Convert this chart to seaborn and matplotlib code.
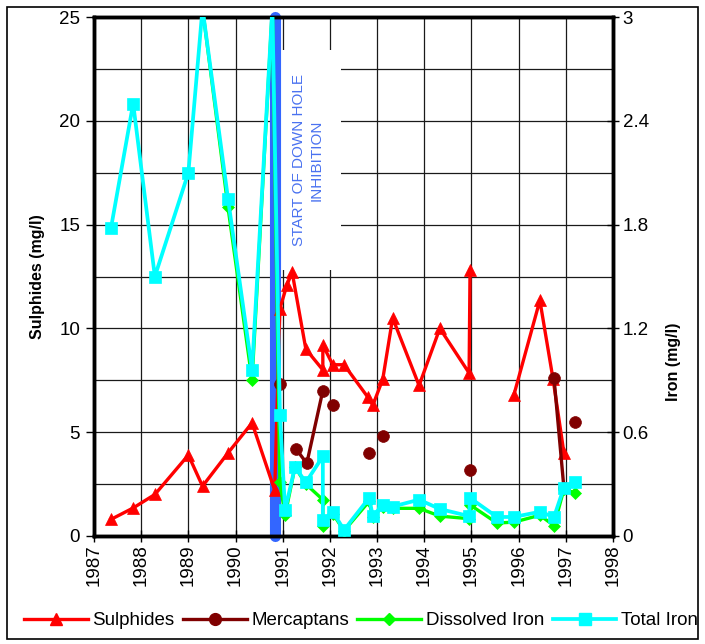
import numpy as np
import pandas as pd
import matplotlib
matplotlib.use("Agg")
import matplotlib.pyplot as plt
from matplotlib.lines import Line2D
from matplotlib.patches import Rectangle
import seaborn as sns

plt.rcParams['font.family'] = ['Liberation Sans', 'DejaVu Sans']

# ---------------- data (decimal years; None = gap in the series) ----------------
sul_x = [1987.36, 1987.83, 1988.29, 1989.0, 1989.3, 1989.84, 1990.35, 1990.83, 1990.94, 1991.09,
         1991.2, 1991.49, 1991.85, 1991.85, 1992.06, 1992.3, 1992.8, 1992.91, 1993.12, 1993.33,
         1993.89, 1994.33, 1994.95, 1994.97, None, 1995.9, 1996.45, 1996.73, 1996.96]
sul_y = [0.8, 1.35, 2.0, 3.9, 2.4, 4.0, 5.45, 2.2, 10.95, 12.1,
         12.7, 9.0, 8.0, 9.2, 8.25, 8.25, 6.7, 6.3, 7.55, 10.5,
         7.25, 10.0, 7.85, 12.8, None, 6.8, 11.35, 7.55, 4.0]

mer_x = [1990.94, None, 1991.28, 1991.51, 1991.85, None, 1992.06, None, 1992.83, None,
         1993.12, None, 1994.97, None, 1996.75, 1996.96, None, 1997.19]
mer_y = [7.3, None, 4.2, 3.5, 7.0, None, 6.3, None, 4.0, None,
         4.8, None, 3.2, None, 7.6, 2.3, None, 5.5]

di_x = [1989.3, 1989.84, 1990.35, 1990.78, 1990.94, 1991.05, 1991.26, 1991.49, 1991.85, 1991.85,
        1992.06, 1992.3, 1992.83, 1992.91, 1993.12, 1993.33, 1993.89, 1994.33, 1994.95, 1994.97,
        1995.54, 1995.9, 1996.45, 1996.75, 1996.96, 1997.19]
di_y = [3.05, 1.90, 0.90, 3.05, 0.31, 0.12, 0.40, 0.30, 0.21, 0.06,
        0.13, 0.03, 0.20, 0.11, 0.17, 0.16, 0.16, 0.115, 0.10, 0.18,
        0.075, 0.08, 0.12, 0.06, 0.27, 0.25]

ti_x = [1987.36, 1987.83, 1988.29, 1989.0, 1989.3, 1989.84, 1990.35, 1990.78, 1990.94, 1991.05,
        1991.26, 1991.49, 1991.85, 1991.85, 1992.06, 1992.3, 1992.83, 1992.91, 1993.12, 1993.33,
        1993.89, 1994.33, 1994.95, 1994.97, 1995.54, 1995.9, 1996.45, 1996.75, 1996.96, 1997.19]
ti_y = [1.78, 2.50, 1.50, 2.10, 3.05, 1.95, 0.96, 3.05, 0.70, 0.15,
        0.40, 0.31, 0.46, 0.09, 0.14, 0.035, 0.22, 0.115, 0.18, 0.17,
        0.21, 0.156, 0.115, 0.22, 0.11, 0.11, 0.14, 0.11, 0.28, 0.31]

inhibition_start = 1990.83
years = list(range(1987, 1999))
left_ticks = [0, 5, 10, 15, 20, 25]
right_ticks = [0, 0.6, 1.2, 1.8, 2.4, 3]
right_tick_labels = ['0', '0.6', '1.2', '1.8', '2.4', '3']


def segments(xs, ys):
    rows, seg = [], 0
    for x, y in zip(xs, ys):
        if x is None or y is None:
            seg += 1
            continue
        rows.append((x, y, seg))
    return pd.DataFrame(rows, columns=['x', 'y', 'seg'])


fig = plt.figure(figsize=(7.05, 6.44), dpi=100)
ax = fig.add_axes([94 / 705, 1 - 536 / 644, (613 - 94) / 705, (536 - 17) / 644])
ax2 = ax.twinx()

# gridlines
for yy in np.arange(2.5, 25, 2.5):
    ax.axhline(yy, color='#1a1a1a', lw=0.9, zorder=0.5)
for yr in years[1:-1]:
    ax.axvline(yr, color='#1a1a1a', lw=0.9, zorder=0.5)

# annotation box and blue line
ax.add_patch(Rectangle((1990.94, 12.8), 1.29, 10.6, facecolor='white', edgecolor='none', zorder=1))
ax.text(1991.53, 18.1, 'START OF DOWN HOLE\nINHIBITION', rotation=90, ha='center', va='center',
        color='#4a72f0', fontsize=11, linespacing=1.35, zorder=2)
ax.plot([inhibition_start, inhibition_start], [0, 25], color='#3366ff', lw=8,
        solid_capstyle='round', clip_on=False, zorder=2)

lw = 2.4
common = dict(estimator=None, sort=False, units='seg', legend=False)

sns.lineplot(data=segments(sul_x, sul_y), x='x', y='y', ax=ax, color='#ff0000', marker='^',
             markersize=9, markeredgecolor='#ff0000', markeredgewidth=0.5, linewidth=lw,
             zorder=3, **common)
sns.lineplot(data=segments(mer_x, mer_y), x='x', y='y', ax=ax, color='#800000', marker='o',
             markersize=8.5, markeredgecolor='#800000', markeredgewidth=0.5, linewidth=lw,
             zorder=3, **common)
sns.lineplot(data=segments(di_x, di_y), x='x', y='y', ax=ax2, color='#00ff00', marker='D',
             markersize=6.5, markeredgecolor='#00ff00', markeredgewidth=0.5, linewidth=lw,
             zorder=3, **common)
sns.lineplot(data=segments(ti_x, ti_y), x='x', y='y', ax=ax2, color='#00ffff', marker='s',
             markersize=9, markeredgecolor='#00ffff', markeredgewidth=0.5, linewidth=2.7,
             zorder=4, **common)

ax.set_xlim(1987, 1998)
ax.set_ylim(0, 25)
ax2.set_ylim(0, 3)

fs = 13.5
ax.set_xticks(years)
ax.set_xticklabels([str(y) for y in years], rotation=90, fontsize=fs)
ax.set_yticks(left_ticks)
ax.set_yticklabels([str(v) for v in left_ticks], fontsize=fs)
ax2.set_yticks(right_ticks)
ax2.set_yticklabels(right_tick_labels, fontsize=fs)

ax.tick_params(axis='x', direction='inout', length=8, width=1, pad=2)
ax.tick_params(axis='y', direction='out', length=6, width=1, pad=4)
ax2.tick_params(axis='y', direction='inout', length=8, width=1, pad=3)

ax.set_xlabel('')
ax.set_ylabel('Sulphides (mg/l)', fontsize=11.5, fontweight='bold', labelpad=10)
ax2.set_ylabel('Iron (mg/l)', fontsize=11.5, fontweight='bold', labelpad=12, y=0.335)

for a in (ax, ax2):
    for s in a.spines.values():
        s.set_linewidth(2.5)
        s.set_color('black')
ax.set_facecolor('white')

# figure border
fig.add_artist(Rectangle((7 / 705, 5 / 644), 691 / 705, 632 / 644, transform=fig.transFigure,
                         fill=False, edgecolor='black', lw=1.2))

handles = [
    Line2D([], [], color='#ff0000', lw=lw, marker='^', markersize=9, markeredgecolor='#ff0000'),
    Line2D([], [], color='#800000', lw=lw, marker='o', markersize=8.5, markeredgecolor='#800000'),
    Line2D([], [], color='#00ff00', lw=lw, marker='D', markersize=6.5, markeredgecolor='#00ff00'),
    Line2D([], [], color='#00ffff', lw=2.7, marker='s', markersize=9, markeredgecolor='#00ffff'),
]
labels = ['Sulphides', 'Mercaptans', 'Dissolved Iron', 'Total Iron']
fig.legend(handles, labels, loc='center', bbox_to_anchor=(0.512, 0.036), ncol=4, frameon=False,
           fontsize=fs, handlelength=3.4, handletextpad=0.25, columnspacing=0.45, numpoints=1)

fig.savefig('out.png', dpi=100)
